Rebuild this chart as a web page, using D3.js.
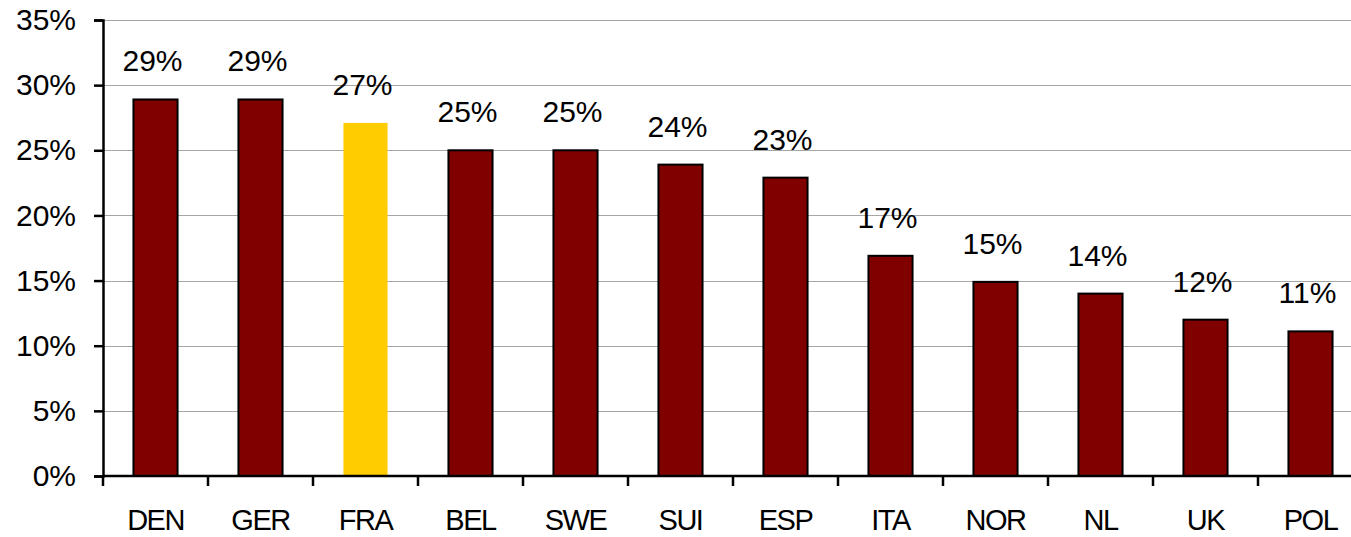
<!DOCTYPE html>
<html>
<head>
<meta charset="utf-8">
<script src="https://cdn.jsdelivr.net/npm/d3@7"></script>
<style>
  body { margin: 0; background: #fff; }
  text { font-family: "Liberation Sans", Arial, sans-serif; fill: #000; }
</style>
</head>
<body>
<svg width="1351" height="537"></svg>
<script>
// chart data
var countries = ["DEN", "GER", "FRA", "BEL", "SWE", "SUI", "ESP", "ITA", "NOR", "NL", "UK", "POL"];
var shares = [28.9, 28.9, 27.1, 25.0, 25.0, 23.9, 22.9, 16.9, 14.9, 14.0, 12.0, 11.1];
var shareLabels = ["29%", "29%", "27%", "25%", "25%", "24%", "23%", "17%", "15%", "14%", "12%", "11%"];
var yTicks = [0, 5, 10, 15, 20, 25, 30, 35];
var highlight = "FRA";

var svg = d3.select("svg"),
    width = +svg.attr("width"),
    height = +svg.attr("height");

var margin = {left: 103, top: 20, bottom: 61};

// x band scale, plot runs a bit past the right edge like the original
var x = d3.scaleBand()
    .domain(countries)
    .range([margin.left, margin.left + 12 * 105])
    .paddingInner(0.58)
    .paddingOuter(0.29);

var y = d3.scaleLinear()
    .domain([0, 35])
    .range([height - margin.bottom, margin.top]);

// gridlines
svg.append("g")
    .selectAll("line")
    .data(yTicks.slice(1))
    .enter().append("line")
    .attr("x1", margin.left)
    .attr("x2", width)
    .attr("y1", function(d) { return Math.round(y(d)) + 0.5; })
    .attr("y2", function(d) { return Math.round(y(d)) + 0.5; })
    .attr("stroke", "#a6a6a6")
    .attr("stroke-width", 1);

// bars
svg.append("g")
    .selectAll("rect")
    .data(countries)
    .enter().append("rect")
    .attr("x", function(d) { return x(d); })
    .attr("width", x.bandwidth())
    .attr("y", function(d, i) { return y(shares[i]); })
    .attr("height", function(d, i) { return y(0) - y(shares[i]); })
    .attr("fill", function(d) { return d == highlight ? "#ffcc00" : "#800000"; })
    .attr("stroke", function(d) { return d == highlight ? "none" : "#000"; })
    .attr("stroke-width", 2);

// value labels
svg.append("g")
    .selectAll("text")
    .data(countries)
    .enter().append("text")
    .attr("x", function(d) { return x(d) + x.bandwidth() / 2 - 3; })
    .attr("y", function(d, i) { return y(shares[i]) - 28; })
    .attr("text-anchor", "middle")
    .style("font-size", "30px")
    .text(function(d, i) { return shareLabels[i]; });

// y axis
var yAxis = d3.axisLeft(y)
    .tickValues(yTicks)
    .tickFormat(function(d) { return d + "%"; })
    .tickSize(9)
    .tickPadding(18);
var gy = svg.append("g")
    .attr("transform", "translate(" + margin.left + ",0)")
    .call(yAxis);
gy.select(".domain").attr("stroke", "#000").attr("stroke-width", 2.5);
gy.selectAll(".tick line").attr("stroke", "#000").attr("stroke-width", 2.5);
gy.selectAll(".tick text").style("font-size", "30px").attr("fill", "#000");

// x axis: ticks sit between the categories
var xAxisG = svg.append("g")
    .attr("transform", "translate(0," + y(0) + ")");
xAxisG.append("line")
    .attr("x1", margin.left)
    .attr("x2", width)
    .attr("stroke", "#000")
    .attr("stroke-width", 2.5);
xAxisG.selectAll(".sep")
    .data(countries)
    .enter().append("line")
    .attr("class", "sep")
    .attr("x1", function(d) { return x(d) - x.step() * x.paddingOuter(); })
    .attr("x2", function(d) { return x(d) - x.step() * x.paddingOuter(); })
    .attr("y1", 0)
    .attr("y2", 10)
    .attr("stroke", "#000")
    .attr("stroke-width", 2.5);
xAxisG.selectAll(".lab")
    .data(countries)
    .enter().append("text")
    .attr("class", "lab")
    .attr("x", function(d) { return x(d) + x.bandwidth() / 2; })
    .attr("y", 54)
    .attr("text-anchor", "middle")
    .style("font-size", "29px")
    .style("letter-spacing", "-1.5px")
    .text(function(d) { return d; });
</script>
</body>
</html>
